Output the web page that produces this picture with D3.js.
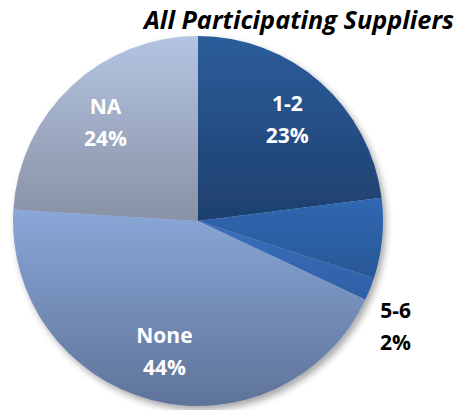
<!DOCTYPE html>
<html>
<head>
<meta charset="utf-8">
<script src="https://cdn.jsdelivr.net/npm/d3@7"></script>
<style>
  html, body { margin: 0; padding: 0; background: #fff; }
  svg { display: block; }
</style>
</head>
<body>
<svg id="chart" width="458" height="410"></svg>
<script>
// Number of suppliers by category
const categories = ["1-2", "3-4", "5-6", "None", "NA"];
const values = [23, 7, 2, 44, 24];
const labelText = ["1-2\n23%", null, "5-6\n2%", "None\n44%", "NA\n24%"];
const topColors = ["#2c5d9b", "#3068b2", "#3a6fbb", "#89a7d8", "#b4c4e1"];
const bottomColors = ["#1e406f", "#285796", "#2e5fa6", "#5f7399", "#8891a5"];
const title = "All Participating Suppliers";

const svg = d3.select("#chart");
const cx = 198, cy = 221, r = 185;

const defs = svg.append("defs");
const shadow = defs.append("filter").attr("id", "shadow")
  .attr("x", "-10%").attr("y", "-10%").attr("width", "125%").attr("height", "125%");
shadow.append("feDropShadow").attr("dx", 3).attr("dy", 4)
  .attr("stdDeviation", 3.5).attr("flood-color", "#000").attr("flood-opacity", 0.35);

categories.forEach((c, i) => {
  const g = defs.append("linearGradient").attr("id", "grad" + i)
    .attr("x1", 0).attr("y1", 0).attr("x2", 0).attr("y2", 1);
  g.append("stop").attr("offset", "0%").attr("stop-color", topColors[i]);
  g.append("stop").attr("offset", "100%").attr("stop-color", bottomColors[i]);
});

const data = categories.map((c, i) => ({ cat: c, value: values[i], idx: i }));
const pie = d3.pie().value(d => d.value).sort(null);
const arcs = pie(data);
const arc = d3.arc().innerRadius(0).outerRadius(r);

const g = svg.append("g").attr("transform", `translate(${cx},${cy})`);
g.append("g").attr("filter", "url(#shadow)")
  .selectAll("path").data(arcs).join("path")
  .attr("d", arc)
  .attr("fill", d => `url(#grad${d.data.idx})`);

// Inside labels sit on the slice centroid; small slices get an outside label
// just past the slice's trailing edge.
const labelR = r * 0.73, outerR = r * 1.21;
arcs.forEach(a => {
  const t = labelText[a.data.idx];
  if (!t) return;
  const isOut = a.data.value < 5;
  const ang = isOut ? a.endAngle + 0.05 : (a.startAngle + a.endAngle) / 2;
  const rr = isOut ? outerR : labelR;
  const x = Math.sin(ang) * rr, y = -Math.cos(ang) * rr;
  const lines = t.split("\n");
  const txt = g.append("text")
    .attr("text-anchor", "middle")
    .attr("font-family", "'Open Sans', sans-serif")
    .attr("font-weight", "bold")
    .attr("font-size", 21)
    .attr("fill", isOut ? "#000" : "#fff");
  lines.forEach((l, k) => {
    txt.append("tspan").attr("x", x).attr("y", y - 8.5 + k * 32).text(l);
  });
});

svg.append("text")
  .attr("x", 454).attr("y", 29)
  .attr("text-anchor", "end")
  .attr("font-family", "'Open Sans', sans-serif")
  .attr("font-weight", "bold")
  .attr("font-style", "italic")
  .attr("font-size", 25)
  .attr("textLength", 310)
  .attr("lengthAdjust", "spacingAndGlyphs")
  .text(title);
</script>
</body>
</html>
